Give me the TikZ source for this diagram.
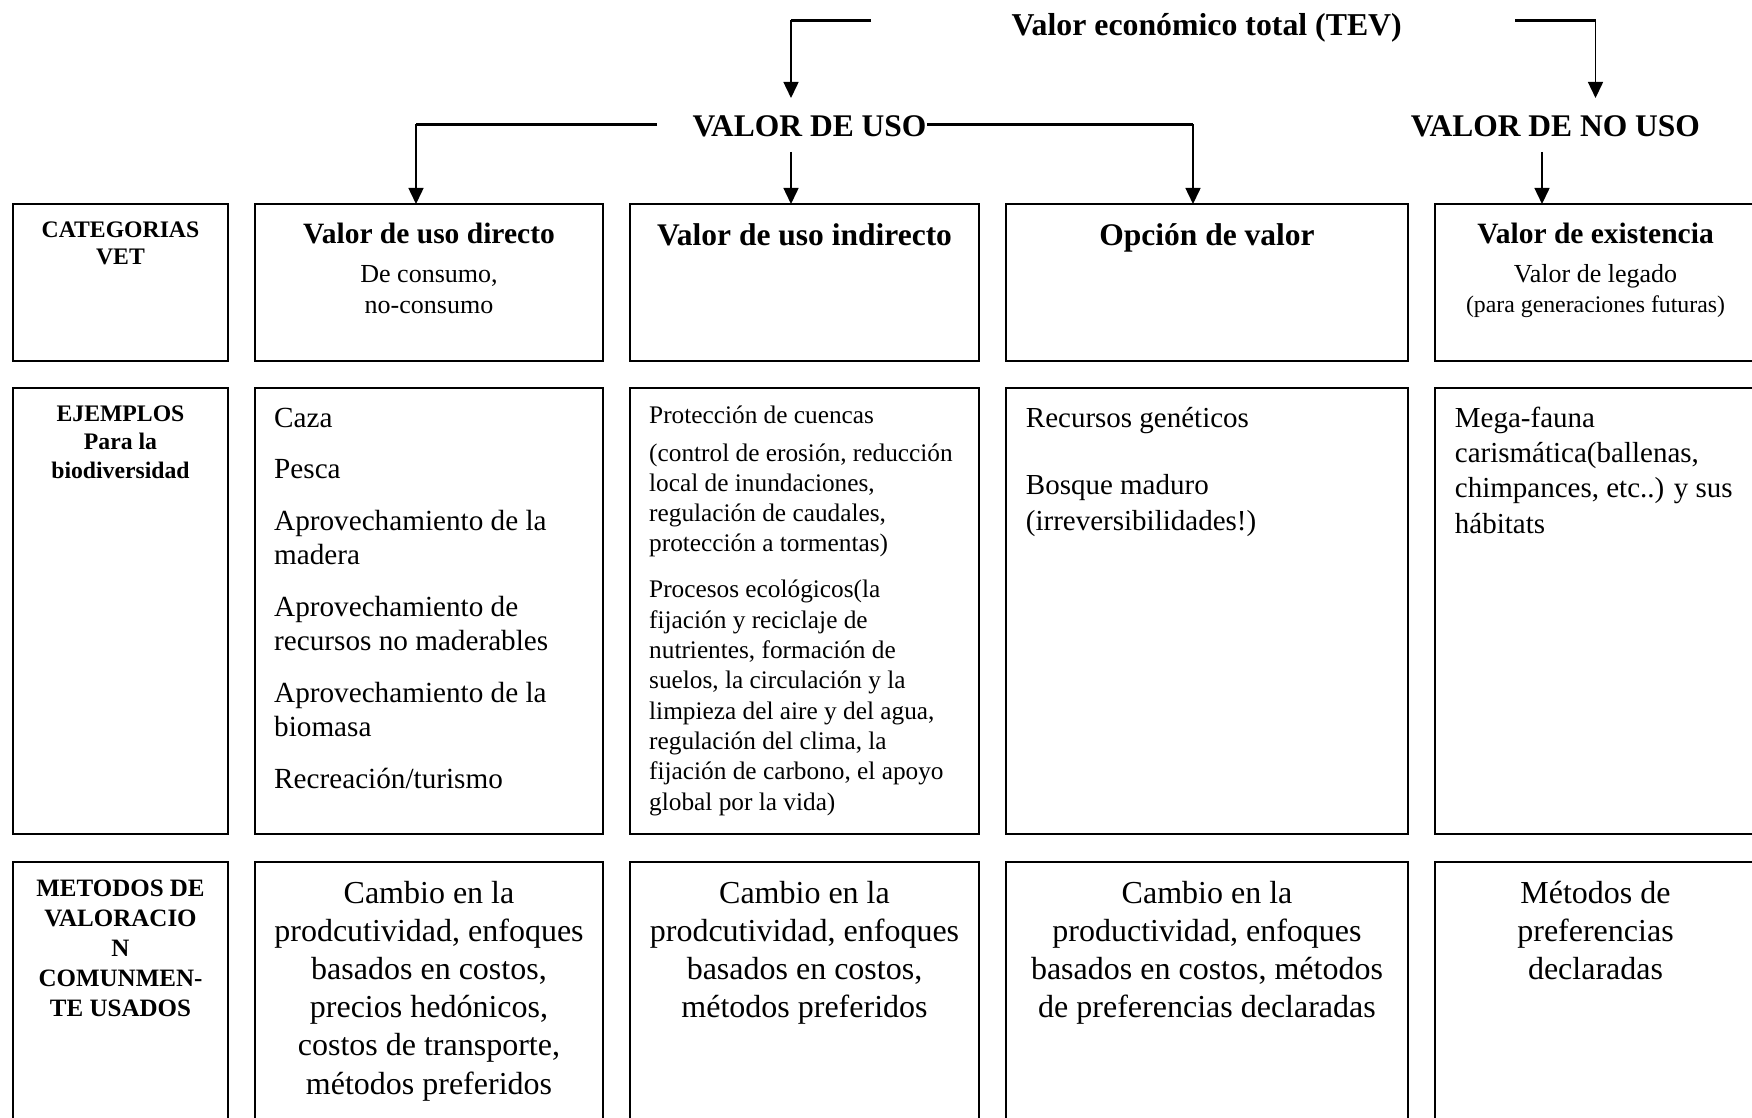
\documentclass[tikz,border=0pt]{standalone}
\usepackage{fontspec}
\setmainfont{Liberation Serif}
\usetikzlibrary{arrows.meta}
\newcommand\fsz[2]{\fontsize{#1}{#2}\selectfont}
\begin{document}
\begin{tikzpicture}[x=1pt,y=-1pt,
  cell/.style={draw, line width=1.6pt, inner sep=0pt, outer sep=0pt, anchor=north west},
  hline/.style={line width=2.4pt},
  arr/.style={line width=1.5pt, -{Triangle[length=16pt,width=15pt]}},
  lbl/.style={inner sep=0pt, anchor=base, align=center},
  lft/.style={inner sep=0pt, anchor=base west, align=left},
]
\useasboundingbox (0,0) rectangle (1752,1118);
\clip (0,0) rectangle (1752,1118);

% ---------- boxes ----------
% row 1
\node[cell, minimum width=215pt, minimum height=157pt] (c0r1) at (13,204) {};
\node[cell, minimum width=348pt, minimum height=157pt] (c1r1) at (255,204) {};
\node[cell, minimum width=349pt, minimum height=157pt] (c2r1) at (630,204) {};
\node[cell, minimum width=402pt, minimum height=157pt] (c3r1) at (1006,204) {};
\node[cell, minimum width=321pt, minimum height=157pt] (c4r1) at (1435,204) {};
% row 2
\node[cell, minimum width=215pt, minimum height=446pt] (c0r2) at (13,388) {};
\node[cell, minimum width=348pt, minimum height=446pt] (c1r2) at (255,388) {};
\node[cell, minimum width=349pt, minimum height=446pt] (c2r2) at (630,388) {};
\node[cell, minimum width=402pt, minimum height=446pt] (c3r2) at (1006,388) {};
\node[cell, minimum width=321pt, minimum height=446pt] (c4r2) at (1435,388) {};
% row 3
\node[cell, minimum width=215pt, minimum height=300pt] (c0r3) at (13,862) {};
\node[cell, minimum width=348pt, minimum height=300pt] (c1r3) at (255,862) {};
\node[cell, minimum width=349pt, minimum height=300pt] (c2r3) at (630,862) {};
\node[cell, minimum width=402pt, minimum height=300pt] (c3r3) at (1006,862) {};
\node[cell, minimum width=321pt, minimum height=300pt] (c4r3) at (1435,862) {};

% ---------- top titles ----------
\node[lbl, font=\fsz{31.8}{36}\bfseries] (tev) at (1206.7,36) {Valor económico total (TEV)};
\node[lbl, font=\fsz{31.5}{36}\bfseries] (uso) at (809.5,136.5) {VALOR DE USO};
\node[lbl, font=\fsz{31.5}{36}\bfseries] (nouso) at (1555.4,136.5) {VALOR DE NO USO};

% ---------- connectors ----------
\coordinate (tevA) at (871,20.5);
\coordinate (tevB) at (791,20.5);
\coordinate (tevC) at (791,98);
\draw[hline] (tevA) -- (tevB);
\draw[arr] (tevB) -- (tevC);

\coordinate (tevD) at (1515,20.5);
\coordinate (tevE) at (1595.5,20.5);
\coordinate (tevF) at (1595.5,98);
\draw[hline] (tevD) -- (tevE);
\draw[arr] (tevE) -- (tevF);

\coordinate (usoL) at (657,124.5);
\coordinate (usoLc) at (416,124.5);
\draw[hline] (usoL) -- (usoLc);
\draw[arr] (usoLc) -- (usoLc |- c1r1.north);

\coordinate (usoR) at (927,124.5);
\coordinate (usoRc) at (1193,124.5);
\draw[hline] (usoR) -- (usoRc);
\draw[arr] (usoRc) -- (usoRc |- c3r1.north);

\coordinate (usoM) at (791,152);
\draw[arr] (usoM) -- (usoM |- c2r1.north);

\coordinate (nousoM) at (1542,152);
\draw[arr] (nousoM) -- (nousoM |- c4r1.north);

% ---------- row 1 texts (anchor = baseline of last line) ----------
\node[lbl, font=\fsz{23.7}{27.5}\bfseries] (t0r1) at (120.5,264.5) {CATEGORIAS\\VET};
\node[lbl, font=\fsz{29.5}{34}\bfseries] (h1) at (429,243) {Valor de uso directo};
\node[lbl, font=\fsz{26}{30.5}] (s1) at (429,313.2) {De consumo,\\no-consumo};
\node[lbl, font=\fsz{31.5}{36}\bfseries] (h2) at (804.5,245) {Valor de uso indirecto};
\node[lbl, font=\fsz{31.5}{36}\bfseries] (h3) at (1207,245) {Opción de valor};
\node[lbl, font=\fsz{29.5}{34}\bfseries] (h4) at (1595.5,243) {Valor de existencia};
\node[lbl, font=\fsz{26}{30}] (s4) at (1595.5,282.5) {Valor de legado};
\node[lbl, font=\fsz{23.8}{28}] (s4b) at (1595.5,312) {(para generaciones futuras)};

% ---------- row 2 texts ----------
\node[lbl, font=\fsz{23.7}{28.5}\bfseries] (t0r2) at (120.5,478) {EJEMPLOS\\Para la\\biodiversidad};
\node[lft, font=\fsz{29.2}{34.5}] (t1r2) at (274,788) {Caza\\[17pt]Pesca\\[17pt]Aprovechamiento de la\\madera\\[17pt]Aprovechamiento de\\recursos no maderables\\[17pt]Aprovechamiento de la\\biomasa\\[17pt]Recreación/turismo};
\node[lft, font=\fsz{25.3}{30.3}] (t2r2) at (649,810) {Protección de cuencas\\[7.7pt](control de erosión, reducción\\local de inundaciones,\\regulación de caudales,\\protección a tormentas)\\[15.7pt]Procesos ecológicos(la\\fijación y reciclaje de\\nutrientes, formación de\\suelos, la circulación y la\\limpieza del aire y del agua,\\regulación del clima, la\\fijación de carbono, el apoyo\\global por la vida)};
\node[lft, font=\fsz{29}{36}] (t3r2) at (1025.7,530) {Recursos genéticos\\[31pt]Bosque maduro\\(irreversibilidades!)};
\node[lft, font=\fsz{29}{35.3}] (t4r2) at (1454.7,533) {Mega-fauna\\carismática(ballenas,\\chimpances, etc..) y sus\\hábitats};

% ---------- row 3 texts ----------
\node[lbl, font=\fsz{25}{30}\bfseries] (t0r3) at (120.5,1016) {METODOS DE\\VALORACIO\\N\\COMUNMEN-\\TE USADOS};
\node[lbl, font=\fsz{32}{38.2}] (t1r3) at (429,1094) {Cambio en la\\prodcutividad, enfoques\\basados en costos,\\precios hedónicos,\\costos de transporte,\\métodos preferidos};
\node[lbl, font=\fsz{32}{38.2}] (t2r3) at (804.5,1017.6) {Cambio en la\\prodcutividad, enfoques\\basados en costos,\\métodos preferidos};
\node[lbl, font=\fsz{32}{38.2}] (t3r3) at (1207,1017.6) {Cambio en la\\productividad, enfoques\\basados en costos, métodos\\de preferencias declaradas};
\node[lbl, font=\fsz{32}{38.2}] (t4r3) at (1595.5,979.4) {Métodos de\\preferencias\\declaradas};
\end{tikzpicture}
\end{document}
